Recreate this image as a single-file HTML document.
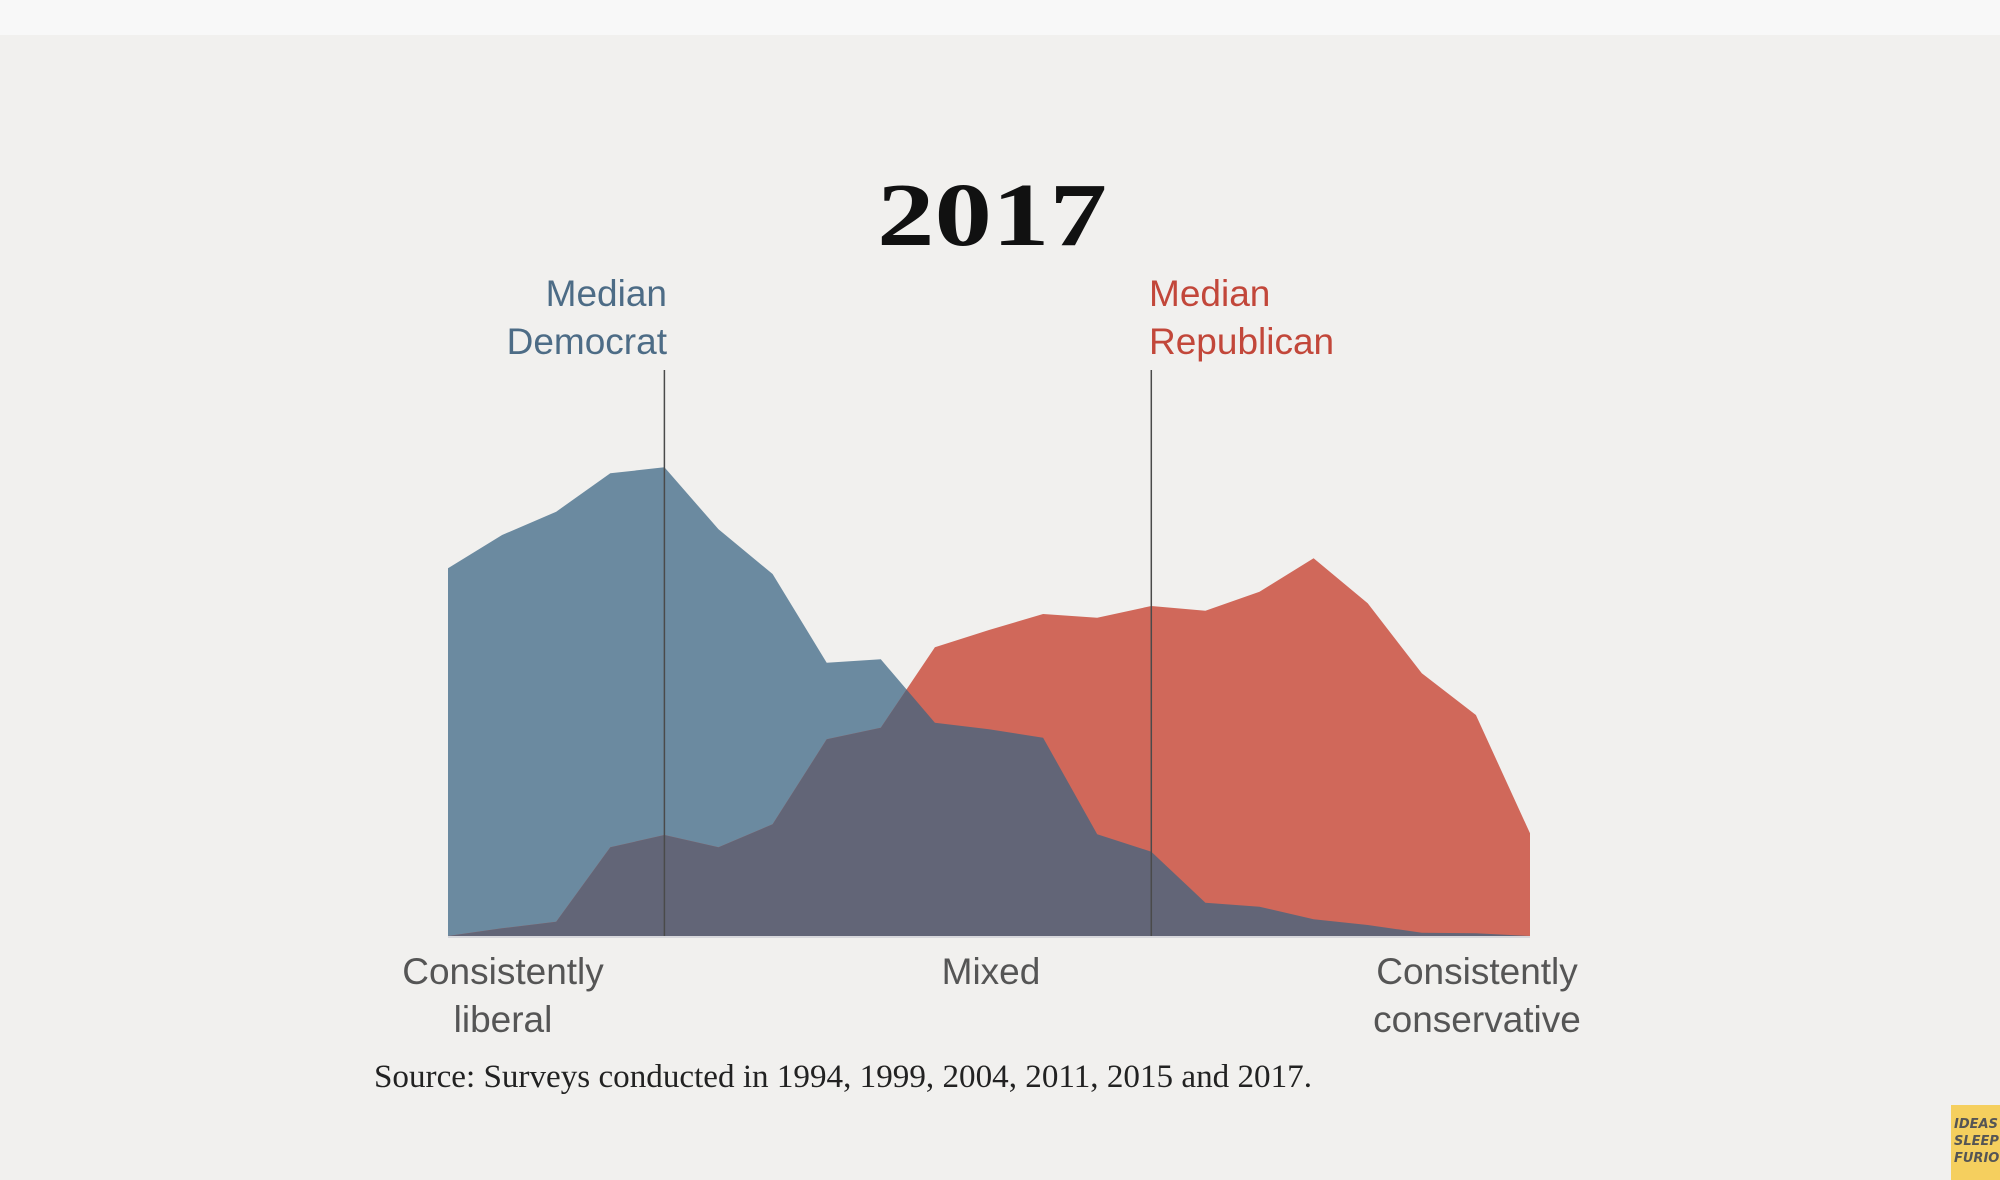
<!DOCTYPE html>
<html><head><meta charset="utf-8">
<style>
body{margin:0;width:2000px;height:1180px;overflow:hidden;background:#f1f0ee;}
svg{display:block;}
</style></head>
<body>
<svg id="chart" width="2000" height="1180" xmlns="http://www.w3.org/2000/svg">
<rect x="0" y="0" width="2000" height="1180" fill="#f1f0ee"/>
<rect x="0" y="0" width="2000" height="35" fill="#f8f8f8"/>
<text x="992" y="245" text-anchor="middle" font-family="Liberation Serif, serif" font-weight="bold" font-size="90" textLength="230" lengthAdjust="spacingAndGlyphs" fill="#111">2017</text>
<g id="areas"></g>
<g font-family="Liberation Sans, sans-serif" font-size="37">
<text x="667" y="306" text-anchor="end" fill="#4d6c86"><tspan x="667">Median</tspan><tspan x="667" dy="48">Democrat</tspan></text>
<text x="1149" y="306" fill="#c2473a"><tspan x="1149">Median</tspan><tspan x="1149" dy="48">Republican</tspan></text>
<text x="503" y="984" text-anchor="middle" fill="#555"><tspan x="503">Consistently</tspan><tspan x="503" dy="48">liberal</tspan></text>
<text x="991" y="984" text-anchor="middle" fill="#555">Mixed</text>
<text x="1477" y="984" text-anchor="middle" fill="#555"><tspan x="1477">Consistently</tspan><tspan x="1477" dy="48">conservative</tspan></text>
</g>
<text x="374" y="1087" font-family="Liberation Serif, serif" font-size="33" fill="#222" textLength="938" lengthAdjust="spacingAndGlyphs">Source: Surveys conducted in 1994, 1999, 2004, 2011, 2015 and 2017.</text>
<g>
<rect x="1951" y="1105" width="49" height="75" fill="#f5cf5e"/>
<text x="1954" y="1128" font-family="DejaVu Sans, sans-serif" font-style="italic" font-weight="bold" font-size="13" fill="#555"><tspan x="1954">IDEAS</tspan><tspan x="1954" dy="17">SLEEP</tspan><tspan x="1954" dy="17">FURIOUS</tspan></text>
</g>
</svg>
<script>
const categories = Array.from({length:21}, (_, i) => i);
const democrats = [367.7,401,424.3,462.7,468.7,406.7,362,273.3,276.7,213.3,206.7,198.3,101.7,84.3,33.3,29.3,16.7,11,3.3,2.7,0];
const republicans = [0,7.7,14.3,88.7,101,88.7,111.7,196.7,208.3,288.7,306,322,318.3,330,325.3,344.3,377.7,332.7,262.7,221,102.7];
const medianDem = 4;
const medianRep = 13;
const X0 = 448, X1 = 1530, BASE = 936, TOPLINE = 370;
const xScale = i => X0 + (X1 - X0) * i / (categories.length - 1);
const yScale = v => BASE - v;
const g = document.getElementById('areas');
const NS = 'http://www.w3.org/2000/svg';
function area(vals, fill) {
  let d = 'M' + xScale(0) + ',' + BASE;
  vals.forEach((v, i) => { d += ' L' + xScale(i) + ',' + yScale(v); });
  d += ' L' + xScale(vals.length - 1) + ',' + BASE + ' Z';
  const p = document.createElementNS(NS, 'path');
  p.setAttribute('d', d);
  p.setAttribute('fill', fill);
  g.appendChild(p);
  return p;
}
const pd = area(democrats, '#6b8aa0');


const pr = area(republicans, '#d0685a');


let od = 'M' + xScale(0) + ',' + BASE;
for (let i = 0; i < categories.length; i++) {
  if (i > 0) {
    const a0 = democrats[i-1] - republicans[i-1], a1 = democrats[i] - republicans[i];
    if (a0 * a1 < 0) {
      const t = a0 / (a0 - a1);
      const xi = (i - 1) + t;
      const v = democrats[i-1] + (democrats[i] - democrats[i-1]) * t;
      od += ' L' + xScale(xi) + ',' + yScale(v);
    }
  }
  od += ' L' + xScale(i) + ',' + yScale(Math.min(democrats[i], republicans[i]));
}
od += ' L' + xScale(categories.length - 1) + ',' + BASE + ' Z';
const po = document.createElementNS(NS, 'path');
po.setAttribute('d', od);
po.setAttribute('fill', '#626577');


g.appendChild(po);
const base = document.createElementNS(NS, 'line');
base.setAttribute('x1', X0); base.setAttribute('x2', X1);
base.setAttribute('y1', BASE + 1); base.setAttribute('y2', BASE + 1);
base.setAttribute('stroke', '#d8d8dc'); base.setAttribute('stroke-width', '2');


g.appendChild(base);
[[medianDem, 'median-democrat-line'], [medianRep, 'median-republican-line']].forEach(([m, n]) => {
  const l = document.createElementNS(NS, 'line');
  l.setAttribute('x1', xScale(m)); l.setAttribute('x2', xScale(m));
  l.setAttribute('y1', TOPLINE); l.setAttribute('y2', BASE);
  l.setAttribute('stroke', '#4a4a4a'); l.setAttribute('stroke-width', '1.5');
  
  
  g.appendChild(l);
});
</script>
</body></html>
